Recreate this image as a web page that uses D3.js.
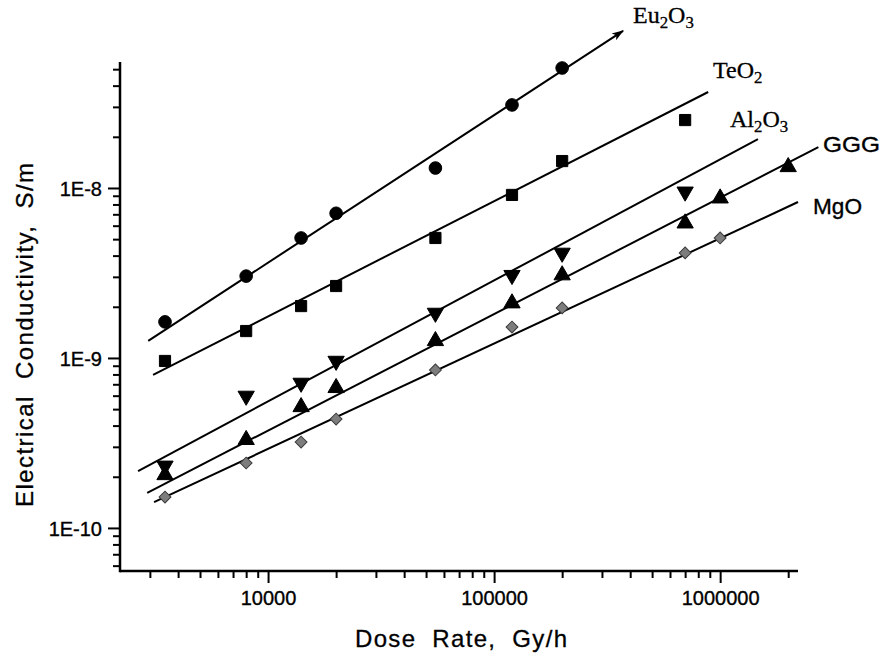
<!DOCTYPE html>
<html>
<head>
<meta charset="utf-8">
<script src="https://cdn.jsdelivr.net/npm/d3@7"></script>
<style>
  html, body { margin: 0; padding: 0; background: #fff; }
  svg { display: block; }
</style>
</head>
<body>
<svg id="chart" width="884" height="655"></svg>
<script>
// ---- data ----
const xDomain = [2213, 2.21e6];
const yDomain = [5.58e-11, 5.51e-8];
const xTickLabels = ["10000", "100000", "1000000"];
const xTickValues = [1e4, 1e5, 1e6];
const yTickLabels = ["1E-10", "1E-9", "1E-8"];
const yTickValues = [1e-10, 1e-9, 1e-8];

const eu2o3X = [3500, 8000, 14000, 20000, 55000, 120000, 200000];
const eu2o3Y = [1.63e-9, 3.03e-9, 5.08e-9, 7.1e-9, 1.31e-8, 3.08e-8, 5.08e-8];
const teo2X = [3500, 8000, 14000, 20000, 55000, 120000, 200000, 700000];
const teo2Y = [9.6e-10, 1.44e-9, 2.02e-9, 2.65e-9, 5.08e-9, 9.1e-9, 1.44e-8, 2.51e-8];
const al2o3X = [3500, 8000, 14000, 20000, 55000, 120000, 200000, 700000];
const al2o3Y = [2.32e-10, 5.98e-10, 7.13e-10, 9.6e-10, 1.84e-9, 3.07e-9, 4.15e-9, 9.5e-9];
const gggX = [3500, 8000, 14000, 20000, 55000, 120000, 200000, 700000, 1000000, 2000000];
const gggY = [2.05e-10, 3.3e-10, 5.15e-10, 6.67e-10, 1.26e-9, 2.1e-9, 3.07e-9, 6.2e-9, 8.7e-9, 1.33e-8];
const mgoX = [3500, 8000, 14000, 20000, 55000, 120000, 200000, 700000, 1000000];
const mgoY = [1.52e-10, 2.41e-10, 3.2e-10, 4.37e-10, 8.5e-10, 1.52e-9, 1.97e-9, 4.15e-9, 5.08e-9];

// fitted lines: [start, end] in data units
const eu2o3Fit = [[2950, 1.26e-9], [372000, 8.4e-8]];
const teo2Fit = [[3100, 7.94e-10], [885000, 3.67e-8]];
const al2o3Fit = [[2660, 2.16e-10], [1.47e6, 1.94e-8]];
const gggFit = [[2920, 1.61e-10], [2.72e6, 1.74e-8]];
const mgoFit = [[3130, 1.42e-10], [2.21e6, 8.27e-9]];

const seriesNames = ["Eu2O3", "TeO2", "Al2O3", "GGG", "MgO"];

// ---- layout ----
const svg = d3.select("#chart");
const margin = { left: 120, top: 62, right: 86, bottom: 84 };
const W = 884, H = 655;
const x = d3.scaleLog().domain(xDomain).range([margin.left, W - margin.right]);
const y = d3.scaleLog().domain(yDomain).range([H - margin.bottom, margin.top]);
const sans = "'Liberation Sans', Arial, Helvetica, sans-serif";
const serif = "'Liberation Serif', 'Times New Roman', serif";

// arrow marker
svg.append("defs").append("marker")
  .attr("id", "arrow").attr("viewBox", "0 0 12 10")
  .attr("refX", 11).attr("refY", 5)
  .attr("markerWidth", 13).attr("markerHeight", 10)
  .attr("markerUnits", "userSpaceOnUse")
  .attr("orient", "auto")
  .append("path").attr("d", "M0,1 L12,5 L0,9 L3,5 Z").attr("fill", "#000");

// ---- axes ----
const xMinor = [];
for (let e = 3; e <= 6; e++) for (let m = 2; m <= 9; m++) {
  const v = m * Math.pow(10, e);
  if (v >= xDomain[0] && v <= xDomain[1]) xMinor.push(v);
}
const yMinor = [];
for (let e = -11; e <= -8; e++) for (let m = 2; m <= 9; m++) {
  const v = m * Math.pow(10, e);
  if (v >= yDomain[0] && v <= yDomain[1]) yMinor.push(v);
}

const xAxisMajor = d3.axisBottom(x).tickValues(xTickValues)
  .tickFormat((d, i) => xTickLabels[i]).tickSize(12).tickPadding(8);
const xAxisMinor = d3.axisBottom(x).tickValues(xMinor).tickFormat("").tickSize(7);
const yAxisMajor = d3.axisLeft(y).tickValues(yTickValues)
  .tickFormat((d, i) => yTickLabels[i]).tickSize(12).tickPadding(6);
const yAxisMinor = d3.axisLeft(y).tickValues(yMinor).tickFormat("").tickSize(7);

function styleAxis(g) {
  g.attr("font-family", null).attr("font-size", null);
  g.select(".domain").remove();
  g.selectAll(".tick line").attr("stroke", "#000").attr("stroke-width", 2);
  g.selectAll(".tick text").attr("fill", "#000")
    .attr("stroke", "#000").attr("stroke-width", 0.35)
    .attr("font-family", sans).attr("font-size", 20);
}

const gx = svg.append("g").attr("transform", `translate(0,${H - margin.bottom})`);
gx.append("g").call(xAxisMinor).call(styleAxis);
gx.append("g").call(xAxisMajor).call(styleAxis);
const gy = svg.append("g").attr("transform", `translate(${margin.left},0)`);
gy.append("g").call(yAxisMinor).call(styleAxis);
gy.append("g").call(yAxisMajor).call(styleAxis);
gy.selectAll(".tick text").attr("dy", "0.36em");

// axis lines
svg.append("line")
  .attr("x1", margin.left).attr("x2", W - margin.right)
  .attr("y1", H - margin.bottom).attr("y2", H - margin.bottom)
  .attr("stroke", "#000").attr("stroke-width", 2.5);
svg.append("line")
  .attr("x1", margin.left).attr("x2", margin.left)
  .attr("y1", margin.top).attr("y2", H - margin.bottom + 1.25)
  .attr("stroke", "#000").attr("stroke-width", 2.5);

// axis titles
svg.append("text")
  .attr("x", (margin.left + W - margin.right) / 2 + 2).attr("y", 647)
  .attr("text-anchor", "middle")
  .attr("textLength", 212).attr("lengthAdjust", "spacing")
  .attr("font-family", sans).attr("font-size", 24).attr("fill", "#000")
  .attr("stroke", "#000").attr("stroke-width", 0.3)
  .text("Dose\u00a0\u00a0Rate,\u00a0\u00a0Gy/h");
svg.append("text")
  .attr("transform", "translate(33,335) rotate(-90)")
  .attr("text-anchor", "middle")
  .attr("textLength", 344).attr("lengthAdjust", "spacing")
  .attr("font-family", sans).attr("font-size", 24).attr("fill", "#000")
  .attr("stroke", "#000").attr("stroke-width", 0.3)
  .text("Electrical\u00a0\u00a0Conductivity,\u00a0\u00a0S/m");

// ---- fit lines ----
const fits = [eu2o3Fit, teo2Fit, al2o3Fit, gggFit, mgoFit];
const line = d3.line().x(d => x(d[0])).y(d => y(d[1]));
fits.forEach((f, i) => {
  svg.append("path").attr("d", line(f))
    .attr("fill", "none").attr("stroke", "#000").attr("stroke-width", 2)
    .attr("marker-end", i === 0 ? "url(#arrow)" : null);
});

// ---- markers ----
const pts = (xs, ys) => xs.map((v, i) => [v, ys[i]]);
const sym = (type, size) => d3.symbol().type(type).size(size)();

function drawPoints(data, pathD, fill, stroke, rot) {
  svg.append("g").selectAll("path").data(data).join("path")
    .attr("transform", d => `translate(${x(d[0])},${y(d[1])})${rot ? " rotate(" + rot + ")" : ""}`)
    .attr("d", pathD)
    .attr("fill", fill).attr("stroke", stroke).attr("stroke-width", 1);
}
drawPoints(pts(eu2o3X, eu2o3Y), sym(d3.symbolCircle, 125), "#000", "#000");
drawPoints(pts(teo2X, teo2Y), sym(d3.symbolSquare, 125), "#000", "#000");
drawPoints(pts(al2o3X, al2o3Y), sym(d3.symbolTriangle, 115), "#000", "#000", 180);
drawPoints(pts(gggX, gggY), sym(d3.symbolTriangle, 115), "#000", "#000");
drawPoints(pts(mgoX, mgoY), sym(d3.symbolSquare, 70), "#7d7d7d", "#3a3a3a", 45);

// ---- series labels ----
function chemLabel(px, py, parts, family, size) {
  const t = svg.append("text").attr("x", px).attr("y", py)
    .attr("font-family", family).attr("font-size", size).attr("fill", "#000")
    .attr("stroke", "#000").attr("stroke-width", 0.3);
  let shifted = false;
  parts.forEach(p => {
    const sub = /^\d$/.test(p);
    const ts = t.append("tspan").text(p);
    if (sub) { ts.attr("dy", shifted ? 0 : 5).attr("font-size", size * 0.7); shifted = true; }
    else { ts.attr("dy", shifted ? -5 : 0); shifted = false; }
  });
}
chemLabel(633, 23, ["Eu", "2", "O", "3"], serif, 24);
chemLabel(713, 78, ["TeO", "2"], serif, 24);
chemLabel(730, 127, ["Al", "2", "O", "3"], serif, 24);
svg.append("text").attr("x", 823).attr("y", 152)
  .attr("textLength", 57).attr("lengthAdjust", "spacingAndGlyphs")
  .attr("font-family", sans).attr("font-size", 22).attr("fill", "#000")
  .attr("stroke", "#000").attr("stroke-width", 0.35).text(seriesNames[3]);
svg.append("text").attr("x", 813).attr("y", 214)
  .attr("textLength", 49).attr("lengthAdjust", "spacingAndGlyphs")
  .attr("font-family", sans).attr("font-size", 22).attr("fill", "#000")
  .attr("stroke", "#000").attr("stroke-width", 0.35).text(seriesNames[4]);
</script>
</body>
</html>
